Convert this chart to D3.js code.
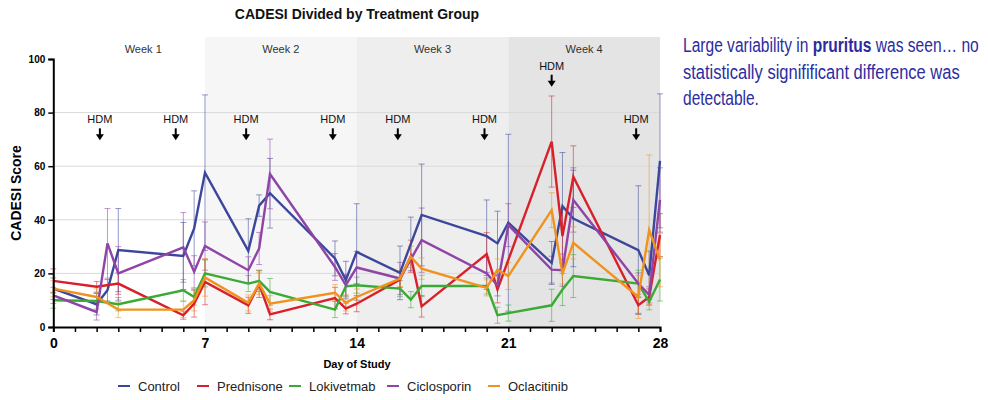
<!DOCTYPE html>
<html>
<head>
<meta charset="utf-8">
<script src="https://cdn.jsdelivr.net/npm/d3@7"></script>
<style>
  html, body { margin: 0; padding: 0; background: #ffffff; }
  svg { display: block; }
  text { font-family: "Liberation Sans", Arial, sans-serif; }
</style>
</head>
<body>
<svg id="chart" width="988" height="400"></svg>
<script>
// Study days on which CADESI was scored
const days = [0, 2, 2.5, 3, 6, 6.5, 7, 9, 9.5, 10, 13, 13.5, 14, 16, 16.5, 17, 20, 20.5, 21, 23, 23.5, 24, 27, 27.5, 28];

// Mean CADESI score per group (null = not scored that day)
const control     = [14.3, 8.5, 13.7, 28.7, 26.5, 36.8, 57.6, 28.4, 45.3, 49.9, 25.6, 17.5, 28, 20.2, 31, 41.8, 33.9, 31.2, 38.9, 23.9, 45.1, 40.5, 28.7, 19.3, 62];
const prednisone  = [17.2, 15, null, 16.2, 4.4, 8.7, 16.8, 8.1, 16, 4.7, 10.8, 6.9, 8.7, 17.7, 26.4, 7.7, 27.2, 14, null, 69.2, 33.9, 56.1, 8.1, 11.2, 34.3];
const lokivetmab  = [10, 9.7, null, 8.5, 13.7, 11.2, 20, 16.2, 17.2, 13.1, 6.5, 15.2, 15.6, 14.3, 10.2, 15.3, 15.3, 4.4, 5.2, 8.1, 14, 19, 16.2, 9.4, 17.7];
const ciclosporin = [11.8, 5.6, 31.2, 20, 29.7, 20.6, 30.2, 21.2, 29.3, 57.1, 22.4, 15.6, 22.2, 18.1, null, 32.4, 20, 15.6, 38, 21.4, 21.2, 47.4, 16.2, 12, 47.4];
const oclacitinib = [14.3, 11.2, null, 6.5, 6.5, 10, 18.5, 9, 16.2, 8.7, 12.8, 9, 11.2, 18.1, 26.2, 21.8, 14.6, 21.4, 19, 43.6, 20, 31.4, 11.2, 36.2, 25];

// Error (± half-range) per group
const controlErr     = [4, 4, 4, 15.5, 12.5, 14, 29, 12, 4, 13, 6.5, 7, 18, 10, 10, 19, 13.5, 12, 33, 8, 20, 18, 24, 9, 25];
const prednisoneErr  = [4.5, 2, null, 4, 1.5, 5, 8.5, 3, 5, 2, 4, 2, 3, 3, 6, 4, 8, 5, null, 17, 10, 11.5, 3, 3, 8];
const lokivetmabErr  = [3, 3, null, 2.5, 4, 3, 5, 3, 4, 5, 3, 4, 3, 3, 3, 4, 3, 3, 3, 6, 6, 8, 5, 3, 8];
const ciclosporinErr = [3, 3, 13, 10, 13, 6, 9, 5, 6, 13, 5, 4, 6, 6, null, 12, 6, 4, 8, 5, 6, 12, 4, 3, 12];
const oclacitinibErr = [3, 3, null, 3, 3, 4, 7, 3, 4, 3, 3, 3, 3, 3, 4, 4, 3, 4, 5, 6.5, 4, 6, 8, 28, 10];

const groupNames  = ["Control", "Prednisone", "Lokivetmab", "Ciclosporin", "Oclacitinib"];
const groupColors = ["#3c479c", "#d8202a", "#3aaa35", "#8f44a6", "#f0921e"];

// Week bands and HDM challenge markers
const weekNames  = ["Week 1", "Week 2", "Week 3", "Week 4"];
const weekStarts = [0, 7, 14, 21];
const weekLabelDays = [4.15, 10.5, 17.5, 24.5];
const weekFills  = ["#ffffff", "#f6f6f6", "#eeeeee", "#e4e4e4"];
const hdmDays    = [2.15, 5.65, 8.9, 12.9, 15.9, 19.9, 23, 26.9];
const hdmLevels  = [76, 76, 76, 76, 76, 76, 96, 76];

const xTicks = [0, 7, 14, 21, 28];
const yTicks = [0, 20, 40, 60, 80, 100];

const values = [control, prednisone, lokivetmab, ciclosporin, oclacitinib];
const errors = [controlErr, prednisoneErr, lokivetmabErr, ciclosporinErr, oclacitinibErr];

const svg = d3.select("#chart");
const x = d3.scaleLinear().domain([0, 28]).range([53.3, 660]);
const y = d3.scaleLinear().domain([0, 100]).range([327, 59]);
const bandTop = 37;

// Week shading
svg.append("g").selectAll("rect")
  .data(weekStarts)
  .join("rect")
  .attr("x", d => x(d))
  .attr("y", bandTop)
  .attr("width", d => x(d + 7) - x(d))
  .attr("height", y(0) - bandTop)
  .attr("fill", (d, i) => weekFills[i]);

svg.append("g").selectAll("text")
  .data(weekNames)
  .join("text")
  .attr("x", (d, i) => x(weekLabelDays[i]))
  .attr("y", 53)
  .attr("text-anchor", "middle")
  .attr("font-size", 11)
  .attr("fill", "#333")
  .text(d => d);

// Gridlines
svg.append("g").selectAll("line")
  .data([20, 40, 60, 80])
  .join("line")
  .attr("x1", x(0)).attr("x2", x(28))
  .attr("y1", d => y(d)).attr("y2", d => y(d))
  .attr("stroke", "#d9d9d9").attr("stroke-width", 1);

// Title
svg.append("text")
  .attr("x", 357).attr("y", 19)
  .attr("text-anchor", "middle")
  .attr("font-size", 14).attr("font-weight", "bold")
  .attr("fill", "#111")
  .text("CADESI Divided by Treatment Group");

// HDM markers
const hdm = svg.append("g").selectAll("g")
  .data(hdmDays)
  .join("g")
  .attr("transform", (d, i) => `translate(${x(d)},${y(hdmLevels[i])})`);
hdm.append("text")
  .attr("y", 0).attr("text-anchor", "middle")
  .attr("font-size", 11).attr("fill", "#111")
  .text("HDM");
hdm.append("line")
  .attr("x1", 0).attr("x2", 0).attr("y1", 5).attr("y2", 13)
  .attr("stroke", "#000").attr("stroke-width", 2);
hdm.append("path")
  .attr("d", "M-4,11 L4,11 L0,17 Z")
  .attr("fill", "#000");

// Error bars
values.forEach((vals, gi) => {
  const pts = days.map((d, i) => ({ d, v: vals[i], e: errors[gi][i] }))
    .filter(p => p.v != null && p.e != null);
  const g = svg.append("g")
    .attr("stroke", groupColors[gi])
    .attr("stroke-opacity", 0.55)
    .attr("stroke-width", 1);
  g.selectAll("line.v").data(pts).join("line").attr("class", "v")
    .attr("x1", p => x(p.d)).attr("x2", p => x(p.d))
    .attr("y1", p => y(Math.max(0, p.v - p.e))).attr("y2", p => y(p.v + p.e));
  g.selectAll("line.t").data(pts).join("line").attr("class", "t")
    .attr("x1", p => x(p.d) - 3).attr("x2", p => x(p.d) + 3)
    .attr("y1", p => y(p.v + p.e)).attr("y2", p => y(p.v + p.e));
  g.selectAll("line.b").data(pts).join("line").attr("class", "b")
    .attr("x1", p => x(p.d) - 3).attr("x2", p => x(p.d) + 3)
    .attr("y1", p => y(Math.max(0, p.v - p.e))).attr("y2", p => y(Math.max(0, p.v - p.e)));
});

// Group lines
const line = d3.line().x(p => x(p.d)).y(p => y(p.v));
values.forEach((vals, gi) => {
  const pts = days.map((d, i) => ({ d, v: vals[i] })).filter(p => p.v != null);
  svg.append("path")
    .datum(pts)
    .attr("d", line)
    .attr("fill", "none")
    .attr("stroke", groupColors[gi])
    .attr("stroke-width", 2.4)
    .attr("stroke-linejoin", "miter");
});

// Axes
const xAxis = svg.append("g")
  .attr("transform", `translate(0,${y(0)})`)
  .call(d3.axisBottom(x).tickValues(d3.range(0, 29)).tickSize(5)
    .tickFormat(d => xTicks.includes(d) ? d : ""));
xAxis.select(".domain").attr("stroke", "#000").attr("stroke-width", 2);
xAxis.selectAll(".tick line").attr("stroke", "#000").attr("stroke-width", 1.5);
xAxis.selectAll(".tick text")
  .attr("font-size", 14).attr("font-weight", "bold")
  .attr("font-family", "Liberation Sans, Arial, sans-serif")
  .attr("fill", "#000").attr("dy", "0.9em");

const yAxis = svg.append("g")
  .attr("transform", `translate(${x(0)},0)`)
  .call(d3.axisLeft(y).tickValues(yTicks).tickSize(5));
yAxis.select(".domain").attr("stroke", "#000").attr("stroke-width", 2);
yAxis.selectAll(".tick line").attr("stroke", "#000").attr("stroke-width", 1.5);
yAxis.selectAll(".tick text")
  .attr("font-size", 10).attr("font-weight", "bold")
  .attr("font-family", "Liberation Sans, Arial, sans-serif")
  .attr("fill", "#000");

// Axis titles
svg.append("text")
  .attr("x", 357).attr("y", 368)
  .attr("text-anchor", "middle")
  .attr("font-size", 11).attr("font-weight", "bold")
  .text("Day of Study");

svg.append("text")
  .attr("transform", `translate(21,${(y(0) + y(100)) / 2}) rotate(-90)`)
  .attr("text-anchor", "middle")
  .attr("font-size", 14).attr("font-weight", "bold")
  .text("CADESI Score");

// Legend
const legendX = [118, 197, 289, 387, 488];
const legend = svg.append("g").selectAll("g")
  .data(groupNames)
  .join("g")
  .attr("transform", (d, i) => `translate(${legendX[i]},386)`);
legend.append("line")
  .attr("x1", 0).attr("x2", 12).attr("y1", 0).attr("y2", 0)
  .attr("stroke", (d, i) => groupColors[i]).attr("stroke-width", 2);
legend.append("text")
  .attr("x", 20).attr("y", 4.5)
  .attr("font-size", 13).attr("fill", "#222")
  .text(d => d);

// Side note: condensed lines, each squeezed horizontally to its set width
const noteFont = "'Liberation Sans Narrow', 'DejaVu Sans Condensed', Arial, sans-serif";
const noteLines = [
  { y: 52,   width: 296, parts: [["Large variability in ", "normal"], ["pruritus", "bold"], [" was seen… no", "normal"]] },
  { y: 78.5, width: 277, parts: [["statistically signifificant difference was", "normal"]] },
  { y: 105,  width: 76,  parts: [["detectable.", "normal"]] }
];
const note = svg.append("g").attr("fill", "#2c2ca0");
noteLines.forEach(ln => {
  const t = note.append("text")
    .attr("font-family", noteFont)
    .attr("font-size", 21);
  ln.parts.forEach(([s, w]) => t.append("tspan").attr("font-weight", w).text(s));
  const natural = t.node().getComputedTextLength();
  t.attr("transform", `translate(683,${ln.y}) scale(${ln.width / natural},1)`);
});
</script>
</body>
</html>
